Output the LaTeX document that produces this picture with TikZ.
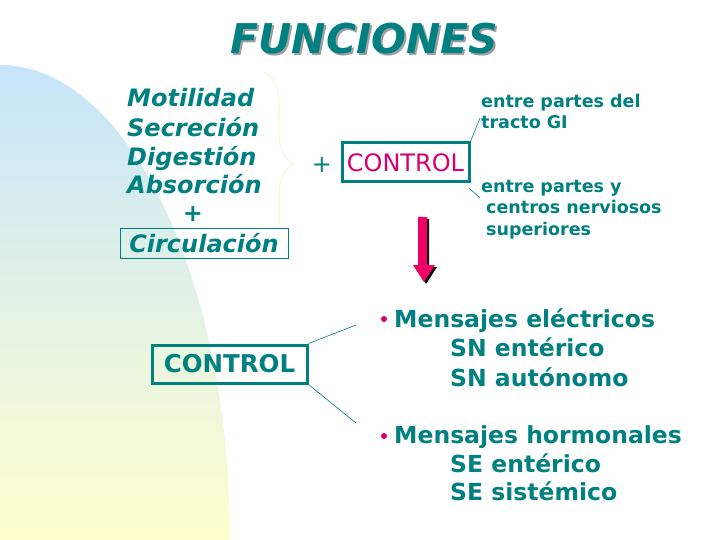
\documentclass[tikz,border=0pt]{standalone}
\usepackage{fontspec}
\setmainfont{DejaVu Sans}
\usetikzlibrary{decorations.pathreplacing}
\definecolor{verdeazul}{RGB}{0,128,128}
\definecolor{rosa}{RGB}{214,0,110}
\definecolor{flecha}{RGB}{240,0,100}
\definecolor{celeste}{RGB}{198,229,250}
\definecolor{verdoso}{RGB}{228,244,226}
\definecolor{crema}{RGB}{255,255,206}
\definecolor{llave}{RGB}{250,248,228}
\newcommand{\consombra}[1]{\makebox[0pt][l]{\hspace{2pt}\raisebox{-2pt}{\textcolor{gray!75}{#1}}}#1}
\tikzset{
  lista/.style={text=verdeazul, font=\fontsize{24}{29}\selectfont\bfseries\itshape, inner sep=0pt, anchor=base west},
  caja/.style={draw=verdeazul, line width=3pt, inner sep=0pt},
  nota/.style={text=verdeazul, font=\fontsize{17.5}{21.5}\selectfont\bfseries, align=left, inner sep=0pt, anchor=north west},
  msg/.style={text=verdeazul, font=\fontsize{23.5}{29}\selectfont\bfseries, inner sep=0pt, anchor=base west},
  linea/.style={verdeazul, line width=0.6pt}
}

\begin{document}
\begin{tikzpicture}[x=1pt, y=-1pt]
  % Fondo
  \fill[white] (0,0) rectangle (720,540);
  \useasboundingbox (0,0) rectangle (720,540);
  \shade[top color=celeste, middle color=verdoso, bottom color=crema] (0,540) -- (0,65) arc[start angle=-90, end angle=0, x radius=230, y radius=475] -- cycle;
  % La llave
  \draw[llave, line width=1.5pt, decorate, decoration={brace, amplitude=30pt}] (264,72) -- (264,256);
  % El titulo (con sombra)
  \node[text=verdeazul, font=\fontsize{41}{45}\selectfont\bfseries\itshape] (titulo) at (364.5,39.5) {\consombra{FUNCIONES}};
  % Las funciones
  \node[lista] (mot) at (127,107) {Motilidad};
  \node[lista] (sec) at (127,137) {Secreción};
  \node[lista] (dig) at (127,166) {Digestión};
  \node[lista] (abs) at (127,194) {Absorción};
  \node[lista, anchor=center] (mas) at (193,214) {+};
  \node[lista, anchor=center, draw=verdeazul, line width=0.8pt, minimum width=168, minimum height=30] (circ) at (204,243) {Circulación};
  % + CONTROL
  \node[text=verdeazul, font=\fontsize{24}{29}\selectfont] (mas2) at (322,165) {+};
  \node[caja, minimum width=127, minimum height=39, text=rosa, font=\fontsize{24}{29}\selectfont] (ctrl) at (405.5,162.5) {CONTROL};
  \node[nota] (tracto) at (481,94) {entre partes del\\tracto GI};
  \node[nota] (centros) at (481,180) {entre partes y\\\hspace{5pt}centros nerviosos\\\hspace{5pt}superiores};
  \coordinate (p1) at (480,118);
  \coordinate (p2) at (480,198);
  \draw[linea] (ctrl.north east) -- (p1);
  \draw[linea] ([shift={(-1,5)}]ctrl.south east) -- (p2);
  % La flecha
  \fill[black, shift={(2,2)}] (418,217) -- (427,217) -- (427,265) -- (435,265) -- (424,282) -- (413,265) -- (418,265) -- cycle;
  \fill[flecha] (418,217) -- (427,217) -- (427,265) -- (435,265) -- (424,282) -- (413,265) -- (418,265) -- cycle;
  % CONTROL de abajo
  \node[caja, minimum width=155, minimum height=38, text=verdeazul, font=\fontsize{24.5}{28}\selectfont\bfseries] (ctrlb) at (229.5,364) {CONTROL};
  \coordinate (m1) at (356,325);
  \coordinate (m2) at (356,423);
  \draw[linea] (ctrlb.north east) -- (m1);
  \draw[linea] (ctrlb.south east) -- (m2);
  % Los mensajes
  \fill[rosa] (384,319) circle (3);
  \node[msg] (elec) at (394,327) {Mensajes eléctricos};
  \node[msg] (sne) at (450,356) {SN entérico};
  \node[msg] (sna) at (450,386) {SN autónomo};
  \fill[rosa] (384,436) circle (3);
  \node[msg] (horm) at (394,443) {Mensajes hormonales};
  \node[msg] (see) at (450,472) {SE entérico};
  \node[msg] (ses) at (450,500) {SE sistémico};
\end{tikzpicture}
\end{document}
